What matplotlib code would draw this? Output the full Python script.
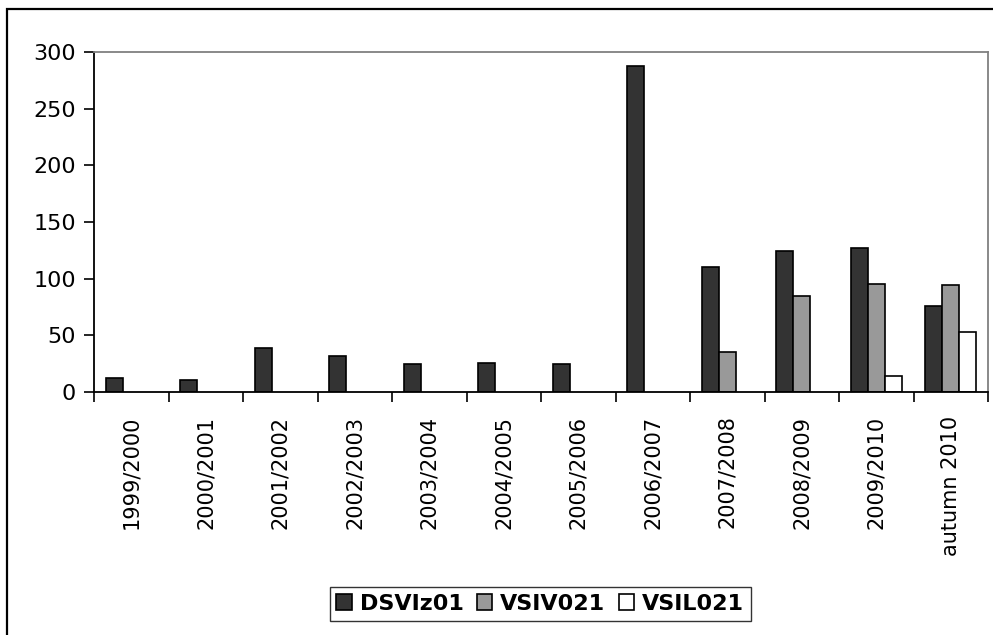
import numpy as np
import matplotlib
matplotlib.use("Agg")
import matplotlib.pyplot as plt
from matplotlib.patches import Rectangle

# values
seasons = ["1999/2000", "2000/2001", "2001/2002", "2002/2003", "2003/2004",
           "2004/2005", "2005/2006", "2006/2007", "2007/2008", "2008/2009",
           "2009/2010", "autumn 2010"]
dsviz01 = [12, 11, 39, 32, 25, 26, 25, 288, 110, 124, 127, 76]
vsiv021 = [0, 0, 0, 0, 0, 0, 0, 0, 35, 85, 95, 94]
vsil021 = [0, 0, 0, 0, 0, 0, 0, 0, 0, 0, 14, 53]

series = [("DSVIz01", dsviz01, "#333333"),
          ("VSIV021", vsiv021, "#999999"),
          ("VSIL021", vsil021, "#ffffff")]

plt.rcParams['font.family'] = ['DejaVu Sans']

fig = plt.figure(figsize=(9.93, 6.35), dpi=100)
ax = fig.add_axes([0.0947, 0.3827, 0.9003, 0.5353])

x = np.arange(len(seasons))
w = 0.23
for k, (name, vals, col) in enumerate(series):
    vals = np.array(vals, dtype=float)
    mask = vals > 0
    ax.bar(x[mask] + (k - 1) * w, vals[mask], width=w, color=col,
           edgecolor="black", linewidth=1.2, label=name)
    # dummy for legend when nothing is drawn is not needed here

ax.set_xlim(-0.5, len(seasons) - 0.5)
ax.set_ylim(0, 300)
ax.set_yticks(np.arange(0, 301, 50))
ax.tick_params(axis="y", direction="out", length=7, width=1.2, labelsize=16, pad=6)

ax.set_xticks(x)
ax.set_xticklabels(seasons, rotation=90, fontsize=15)
ax.tick_params(axis="x", which="major", length=0, pad=17)
ax.set_xticks(np.arange(-0.5, len(seasons), 1), minor=True)
ax.tick_params(axis="x", which="minor", direction="out", length=7, width=1.2)

for side in ["left", "bottom"]:
    ax.spines[side].set_color("black")
    ax.spines[side].set_linewidth(1.3)
for side in ["top", "right"]:
    ax.spines[side].set_color("#808080")
    ax.spines[side].set_linewidth(1.3)

leg = fig.legend(loc="center", bbox_to_anchor=(0.544, 0.049), ncol=3,
                 frameon=True, fancybox=False, edgecolor="black",
                 prop={"weight": "bold", "size": 16},
                 handlelength=0.7, handleheight=0.7, handletextpad=0.35,
                 columnspacing=0.6, borderpad=0.3, borderaxespad=0)
leg.get_frame().set_linewidth(1.0)

# outer chart border
fig.patches.append(Rectangle((7 / 993, -0.05), 1.2, 1 - 9 / 635 + 0.05,
                             transform=fig.transFigure, fill=False,
                             edgecolor="black", linewidth=1.6))

fig.savefig("out.png", dpi=100)
